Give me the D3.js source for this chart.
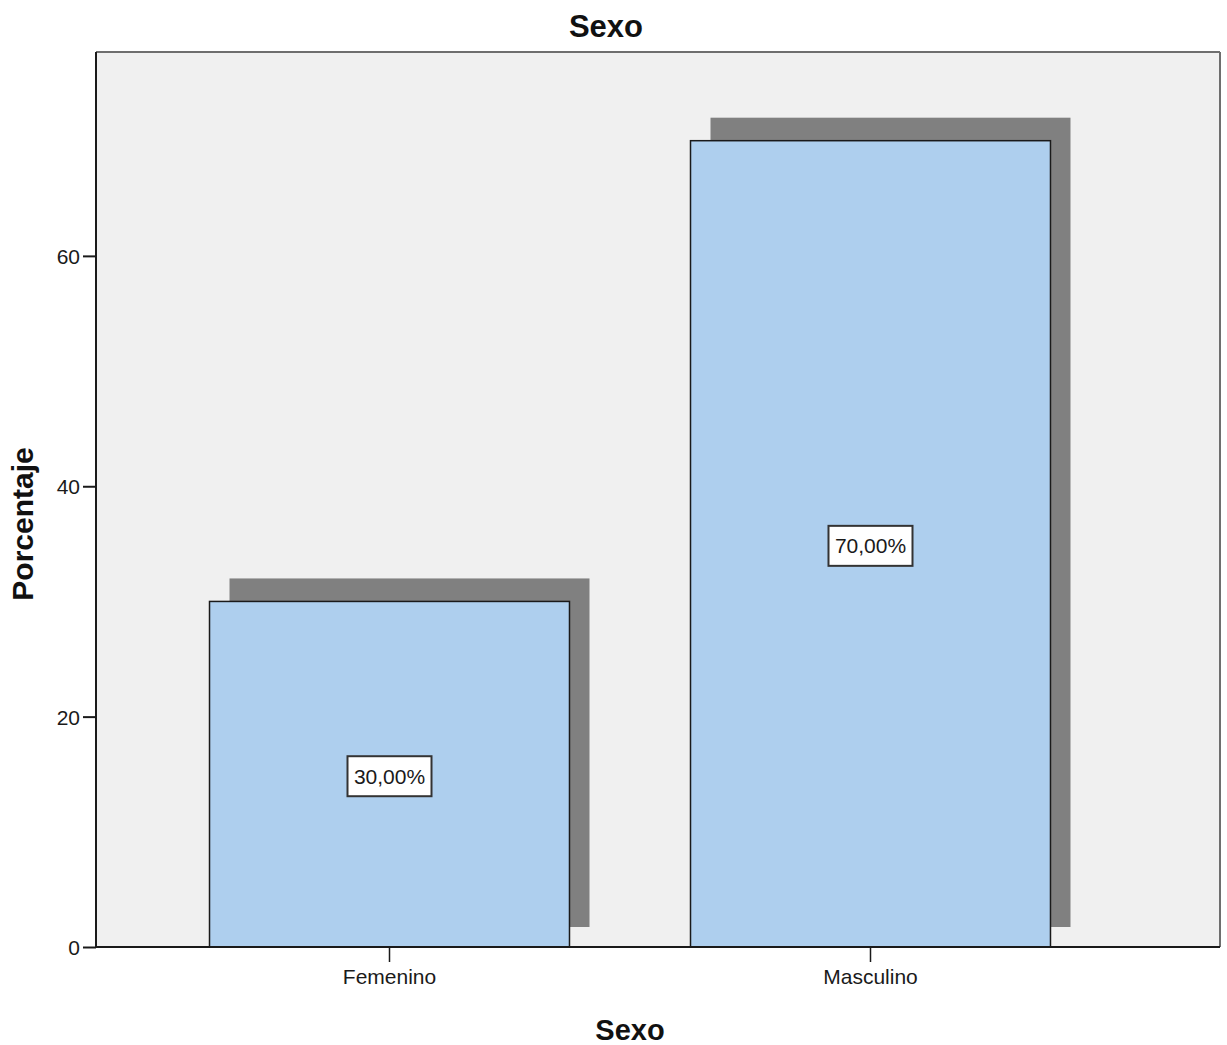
<!DOCTYPE html>
<html>
<head>
<meta charset="utf-8">
<script src="https://cdn.jsdelivr.net/npm/d3@7"></script>
<style>
  html, body { margin: 0; padding: 0; background: #ffffff; }
  svg { display: block; font-family: "Liberation Sans", Arial, sans-serif; }
</style>
</head>
<body>
<svg id="chart" width="1227" height="1045"></svg>
<script>
// ---- data ----
const categories = ["Femenino", "Masculino"];
const percentages = [30, 70];
const valueLabels = ["30,00%", "70,00%"];
const yTicks = [0, 20, 40, 60];
const chartTitle = "Sexo";
const xTitle = "Sexo";
const yTitle = "Porcentaje";

// ---- layout ----
const W = 1227, H = 1045;
const plot = { left: 96, right: 1220, top: 52, bottom: 947 };
const yMax = 77.7;

const svg = d3.select("#chart");

const x = d3.scaleBand()
  .domain(categories)
  .range([plot.left, 1164])
  .paddingInner(0.2516)
  .paddingOuter(0.236);

const y = d3.scaleLinear()
  .domain([0, yMax])
  .range([plot.bottom, plot.top]);

// plot background
svg.append("rect")
  .attr("x", plot.left).attr("y", plot.top)
  .attr("width", plot.right - plot.left)
  .attr("height", plot.bottom - plot.top)
  .attr("fill", "#f0f0f0");

const data = categories.map((c, i) => ({ cat: c, v: percentages[i], label: valueLabels[i] }));

// shadows
const sdx = 20, sdy = -23;
svg.append("g").selectAll("rect").data(data).join("rect")
  .attr("x", d => x(d.cat) + sdx)
  .attr("y", d => y(d.v) + sdy)
  .attr("width", x.bandwidth())
  .attr("height", d => y(0) - y(d.v) + 3)
  .attr("fill", "#808080");

// bars
svg.append("g").selectAll("rect").data(data).join("rect")
  .attr("x", d => x(d.cat))
  .attr("y", d => y(d.v))
  .attr("width", x.bandwidth())
  .attr("height", d => y(0) - y(d.v))
  .attr("fill", "#aecfee")
  .attr("stroke", "#1a1a1a")
  .attr("stroke-width", 1.5);

// frame (top & right lighter)
svg.append("line")
  .attr("x1", plot.left).attr("x2", plot.right)
  .attr("y1", plot.top).attr("y2", plot.top)
  .attr("stroke", "#6e6e6e").attr("stroke-width", 2);
svg.append("line")
  .attr("x1", plot.right).attr("x2", plot.right)
  .attr("y1", plot.top).attr("y2", plot.bottom)
  .attr("stroke", "#6e6e6e").attr("stroke-width", 2);

// y axis
const yAxis = svg.append("g")
  .attr("transform", `translate(${plot.left},0)`)
  .call(d3.axisLeft(y).tickValues(yTicks).tickSize(13).tickPadding(3).tickFormat(d3.format("d")));
yAxis.select(".domain").attr("stroke", "#1a1a1a").attr("stroke-width", 2)
  .attr("d", `M0,${plot.top}V${plot.bottom}`);
yAxis.selectAll(".tick line").attr("stroke", "#1a1a1a").attr("stroke-width", 2);
yAxis.selectAll(".tick text")
  .attr("font-size", 21).attr("fill", "#1a1a1a")
  .attr("font-family", "'Liberation Sans', Arial, sans-serif")
  .attr("dy", "0.36em");

// x axis
const xAxis = svg.append("g")
  .attr("transform", `translate(0,${plot.bottom})`)
  .call(d3.axisBottom(x).tickSize(15).tickPadding(7));
xAxis.select(".domain").attr("stroke", "#1a1a1a").attr("stroke-width", 2)
  .attr("d", `M${plot.left},0H${plot.right}`);
xAxis.selectAll(".tick line").attr("stroke", "#1a1a1a").attr("stroke-width", 1.5);
xAxis.selectAll(".tick text")
  .attr("font-size", 21).attr("fill", "#1a1a1a")
  .attr("font-family", "'Liberation Sans', Arial, sans-serif");

// value labels with boxes
const lblG = svg.append("g").selectAll("g").data(data).join("g")
  .attr("transform", d => `translate(${x(d.cat) + x.bandwidth() / 2},${y(d.v / 2) + 2})`);
lblG.append("rect")
  .attr("x", -42).attr("y", -20).attr("width", 84).attr("height", 40)
  .attr("fill", "#ffffff").attr("stroke", "#333333").attr("stroke-width", 2);
lblG.append("text")
  .attr("text-anchor", "middle")
  .attr("dy", "0.36em")
  .attr("font-size", 21)
  .attr("fill", "#1a1a1a")
  .text(d => d.label);

// titles
svg.append("text")
  .attr("x", 606).attr("y", 37)
  .attr("text-anchor", "middle")
  .attr("font-size", 31).attr("font-weight", "bold").attr("fill", "#111")
  .text(chartTitle);

const xMid = (x(categories[0]) + x(categories[categories.length - 1]) + x.bandwidth()) / 2;
svg.append("text")
  .attr("x", xMid).attr("y", 1040)
  .attr("text-anchor", "middle")
  .attr("font-size", 29).attr("font-weight", "bold").attr("fill", "#111")
  .text(xTitle);

svg.append("text")
  .attr("transform", `translate(33,524) rotate(-90)`)
  .attr("text-anchor", "middle")
  .attr("font-size", 30).attr("font-weight", "bold").attr("fill", "#111")
  .text(yTitle);
</script>
</body>
</html>
